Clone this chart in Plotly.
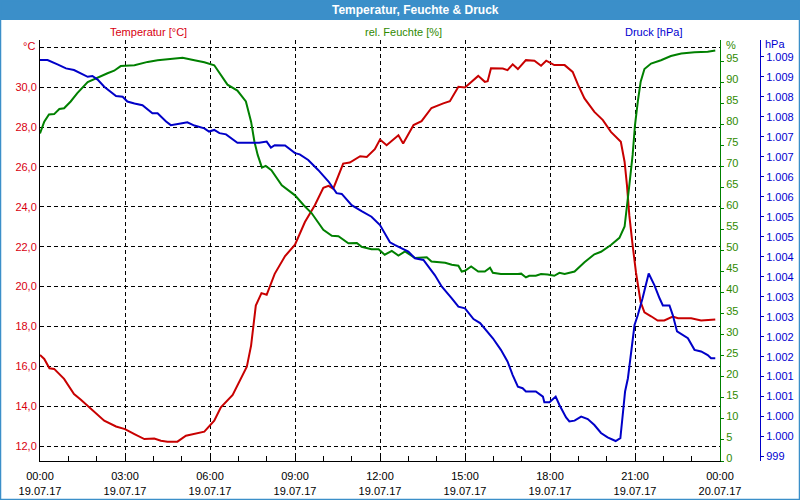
import pandas as pd
import plotly.graph_objects as go

# ---------------- data ----------------
base_day = "2017-07-19 00:00"

temp_minutes = [0, 9, 20, 30, 51, 72, 86, 108, 136, 161,
                180, 200, 221, 242, 256, 270, 291, 309, 327, 348,
                369, 383, 408, 422, 438, 447, 457, 469, 480, 497,
                519, 540, 561, 582, 600, 611, 621, 642, 656, 678,
                692, 709, 720, 734, 759, 769, 791, 808, 829, 854,
                868, 886, 900, 928, 942, 948, 955, 980, 990, 1001,
                1012, 1029, 1047, 1061, 1072, 1089, 1111, 1128, 1139, 1153,
                1174, 1192, 1209, 1230, 1238, 1243, 1248, 1255, 1262, 1272,
                1280, 1294, 1308, 1322, 1340, 1351, 1379, 1400, 1430]
temperature = [16.57, 16.37, 15.9, 15.87, 15.37, 14.61, 14.33, 13.86, 13.27, 12.98,
               12.85, 12.6, 12.35, 12.38, 12.27, 12.22, 12.22, 12.52, 12.63, 12.72,
               13.27, 13.94, 14.56, 15.19, 15.98, 17.04, 19.05, 19.67, 19.59, 20.64,
               21.53, 22.1, 23.24, 24.08, 24.95, 25.05, 24.91, 26.17, 26.22, 26.54,
               26.5, 26.89, 27.38, 27.09, 27.59, 27.18, 28.1, 28.3, 28.96, 29.19,
               29.3, 30.02, 29.99, 30.57, 30.27, 30.3, 30.95, 30.94, 30.86, 31.15,
               30.91, 31.36, 31.33, 31.08, 31.33, 31.11, 31.11, 30.77, 30.14, 29.44,
               28.76, 28.35, 27.76, 27.26, 26.25, 25.08, 23.57, 22.07, 20.72, 19.22,
               18.71, 18.51, 18.3, 18.3, 18.5, 18.41, 18.41, 18.3, 18.35]

hum_minutes = [0, 9, 19, 30, 41, 51, 65, 79, 101, 122,
               143, 157, 171, 200, 228, 249, 277, 302, 327, 348,
               369, 383, 397, 418, 436, 447, 454, 461, 470, 478,
               490, 512, 540, 558, 575, 600, 618, 632, 653, 671,
               681, 702, 717, 730, 745, 759, 773, 794, 819, 829,
               858, 872, 886, 893, 900, 913, 928, 942, 953, 959,
               976, 1012, 1019, 1029, 1036, 1050, 1061, 1075, 1089, 1100,
               1111, 1132, 1153, 1174, 1188, 1209, 1227, 1238, 1243, 1248,
               1255, 1260, 1266, 1272, 1280, 1294, 1315, 1336, 1358, 1386,
               1414, 1430]
humidity = [77.8, 80.6, 82.3, 82.4, 83.6, 83.8, 85.4, 87.4, 90.0, 91.1,
            92.1, 92.7, 93.8, 94.0, 94.8, 95.2, 95.5, 95.8, 95.2, 94.7,
            94.0, 91.6, 89.4, 88.0, 85.4, 80.6, 75.9, 72.7, 69.7, 70.1,
            69.1, 65.5, 63.1, 60.8, 58.9, 54.9, 53.5, 53.4, 51.7, 51.8,
            50.9, 50.3, 50.3, 49.0, 49.9, 48.8, 49.8, 48.2, 48.4, 47.4,
            47.1, 46.6, 46.4, 45.0, 45.2, 46.2, 45.0, 45.0, 45.9, 44.7,
            44.4, 44.4, 44.5, 43.6, 44.0, 44.0, 44.4, 44.3, 44.0, 44.7,
            44.4, 45.0, 47.2, 49.1, 49.7, 51.3, 53.0, 55.7, 60.1, 65.5,
            72.7, 79.8, 85.4, 90.1, 93.1, 94.4, 95.2, 96.2, 96.8, 97.1,
            97.2, 97.5]

press_minutes = [0, 16, 37, 55, 72, 90, 101, 111, 122, 136,
                 161, 175, 185, 200, 217, 238, 249, 267, 277, 298,
                 312, 327, 348, 358, 369, 380, 394, 418, 447, 464,
                 480, 489, 497, 519, 540, 550, 568, 589, 611, 628,
                 639, 660, 681, 702, 720, 741, 752, 766, 780, 794,
                 812, 836, 851, 872, 886, 900, 918, 932, 948, 959,
                 976, 990, 1001, 1012, 1022, 1029, 1050, 1065, 1068, 1079,
                 1092, 1100, 1114, 1121, 1132, 1146, 1160, 1174, 1188, 1202,
                 1219, 1229, 1234, 1239, 1245, 1250, 1259, 1266, 1276, 1289,
                 1301, 1312, 1319, 1333, 1340, 1349, 1372, 1386, 1400, 1414,
                 1421, 1430]
pressure = [1008.92, 1008.92, 1008.81, 1008.71, 1008.67, 1008.56, 1008.5, 1008.52, 1008.43, 1008.25,
            1008.02, 1008.0, 1007.88, 1007.83, 1007.79, 1007.59, 1007.59, 1007.38, 1007.29, 1007.33,
            1007.36, 1007.28, 1007.21, 1007.13, 1007.17, 1007.09, 1007.06, 1006.85, 1006.85, 1006.85,
            1006.88, 1006.73, 1006.79, 1006.78, 1006.59, 1006.56, 1006.42, 1006.17, 1005.88, 1005.59,
            1005.57, 1005.29, 1005.14, 1005.0, 1004.79, 1004.36, 1004.29, 1004.21, 1004.13, 1003.96,
            1003.92, 1003.54, 1003.25, 1002.96, 1002.75, 1002.71, 1002.44, 1002.34, 1002.11, 1001.96,
            1001.67, 1001.38, 1001.04, 1000.75, 1000.71, 1000.63, 1000.63, 1000.5, 1000.36, 1000.36,
            1000.5, 1000.29, 999.98, 999.88, 999.9, 1000.0, 999.94, 999.79, 999.59, 999.48,
            999.39, 999.46, 1000.04, 1000.63, 1000.96, 1001.46, 1002.29, 1002.54, 1002.96, 1003.58,
            1003.29, 1002.96, 1002.78, 1002.78, 1002.54, 1002.13, 1001.96, 1001.67, 1001.63, 1001.54,
            1001.46, 1001.46]

temp_ticks = [12, 14, 16, 18, 20, 22, 24, 26, 28, 30, 32]
temp_ticktext = ["12,0", "14,0", "16,0", "18,0", "20,0", "22,0", "24,0", "26,0", "28,0", "30,0", ""]
hum_ticks = list(range(0, 100, 5))
press_ticks = [999 + 0.5 * i for i in range(21)]
press_ticktext = ["999", "1.000", "1.000", "1.001", "1.001", "1.002", "1.002", "1.003", "1.003",
                  "1.004", "1.004", "1.005", "1.005", "1.006", "1.006", "1.007", "1.007",
                  "1.008", "1.008", "1.009", "1.009"]

title_text = "Temperatur, Feuchte & Druck"
series_names = ["Temperatur [°C]", "rel. Feuchte [%]", "Druck [hPa]"]

# ---------------- styling ----------------
W, H = 800, 500
ML, MR, MT, MB = 40, 40, 40, 39
PW, PH = W - ML - MR, H - MT - MB          # paper area in px
PLOT_R = 720                               # right edge of x-axis domain (px)

RED, GREEN, BLUE = "#c80000", "#008000", "#0000c8"
RED_T, GREEN_T, BLUE_T = "#d80010", "#2f8a00", "#0000d0"
FRAME = "#3b8fc9"
FONT = "Liberation Sans, Arial, sans-serif"


def px_x(px):
    return (px - ML) / PW


def px_y(py):
    return (H - MB - py) / PH


def tx(minutes):
    return pd.Timestamp(base_day) + pd.to_timedelta(minutes, unit="min")


fig = go.Figure()
fig.add_trace(go.Scatter(x=tx(temp_minutes), y=temperature, mode="lines",
                         line=dict(color=RED, width=2), yaxis="y", name=series_names[0]))
fig.add_trace(go.Scatter(x=tx(hum_minutes), y=humidity, mode="lines",
                         line=dict(color=GREEN, width=2), yaxis="y2", name=series_names[1]))
fig.add_trace(go.Scatter(x=tx(press_minutes), y=pressure, mode="lines",
                         line=dict(color=BLUE, width=2), yaxis="y3", name=series_names[2]))

grid = dict(showgrid=True, gridcolor="black", gridwidth=1, griddash="4px,3px")

fig.update_layout(
    width=W, height=H,
    margin=dict(l=ML, r=MR, t=MT, b=MB, pad=0, autoexpand=False),
    paper_bgcolor="white", plot_bgcolor="white",
    showlegend=False,
    separators=",.",
    font=dict(family=FONT, size=11, color="black"),
    xaxis=dict(
        type="date", domain=[0, (PLOT_R - ML) / PW],
        range=["2017-07-19 00:00", "2017-07-20 00:00"],
        tick0="2017-07-19 00:00", dtick=3 * 3600 * 1000,
        tickformat="%H:%M<br>%d.%m.%y",
        ticks="inside", ticklen=5, tickcolor="black",
        minor=dict(dtick=3600 * 1000, ticks="inside", ticklen=5, tickcolor="black", showgrid=False),
        showline=True, linecolor="black", linewidth=1,
        tickfont=dict(size=11, color="black"), ticklabelstandoff=5, automargin=False,
        zeroline=False, **grid,
    ),
    yaxis=dict(
        range=[11.25, 32.37], tickmode="array", tickvals=temp_ticks, ticktext=temp_ticktext,
        ticks="", showline=True, linecolor="black", linewidth=1, automargin=False,
        tickfont=dict(size=11, color=RED_T), zeroline=False, **grid,
    ),
    yaxis2=dict(
        overlaying="y", side="right", anchor="x", automargin=False,
        range=[0, 100], tickmode="array", tickvals=hum_ticks,
        ticks="outside", ticklen=3, tickcolor=GREEN,
        showline=True, linecolor=GREEN, linewidth=1, showgrid=False, zeroline=False,
        tickfont=dict(size=11, color=GREEN_T), ticklabelshift=-3,
    ),
    yaxis3=dict(
        overlaying="y", side="right", anchor="free", position=1.0, automargin=False,
        range=[998.89, 1009.42], tickmode="array", tickvals=press_ticks, ticktext=press_ticktext,
        ticks="outside", ticklen=3, tickcolor=BLUE,
        showline=True, linecolor=BLUE, linewidth=1, showgrid=False, zeroline=False,
        tickfont=dict(size=11, color=BLUE_T),
    ),
)

# window frame and title bar
fig.add_shape(type="rect", xref="paper", yref="paper", layer="below",
              x0=px_x(0), x1=px_x(W), y0=px_y(20), y1=px_y(0),
              fillcolor=FRAME, line=dict(width=0))
fig.add_shape(type="rect", xref="paper", yref="paper", layer="above",
              x0=px_x(0), x1=px_x(W), y0=px_y(H), y1=px_y(0),
              fillcolor="rgba(0,0,0,0)", line=dict(color=FRAME, width=2.5))

annots = [
    (title_text, 415, 10, "center", "white", 12, True),
    (series_names[0], 148, 32, "center", RED_T, 11, False),
    (series_names[1], 403, 32, "center", GREEN_T, 11, False),
    (series_names[2], 653, 32, "center", BLUE_T, 11, False),
    ("°C", 37, 46, "right", RED_T, 11, False),
    ("%", 724, 45, "left", GREEN_T, 11, False),
    ("hPa", 763, 44, "left", BLUE_T, 11, False),
]
for text, x, y, anchor, color, size, bold in annots:
    fig.add_annotation(
        text=f"<b>{text}</b>" if bold else text,
        xref="paper", yref="paper", x=px_x(x), y=px_y(y),
        xanchor=anchor, yanchor="middle", showarrow=False,
        font=dict(family=FONT, size=size, color=color),
    )

fig.write_html("out.html")
